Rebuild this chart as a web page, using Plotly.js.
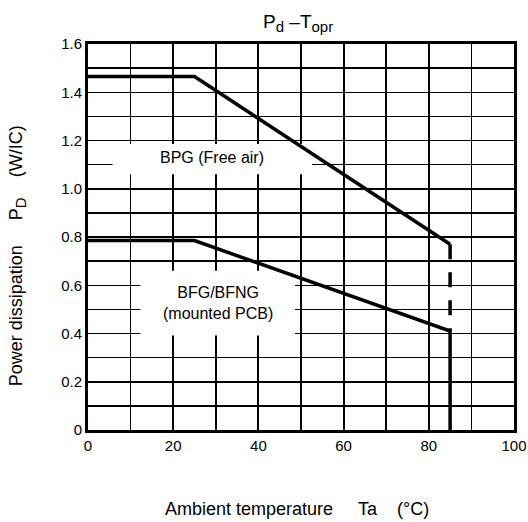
<!DOCTYPE html>
<html><head><meta charset="utf-8">
<script src="https://cdn.plot.ly/plotly-3.0.1.min.js"></script>
<style>html,body{margin:0;padding:0;background:#fff}#chart{width:528px;height:522px}</style>
</head><body><div id="chart"></div>
<script>
// Data
const bpgTemp = [0, 25, 85];
const bpgPower = [1.465, 1.465, 0.77];
const bpgDashTemp = [85, 85];
const bpgDashPower = [0.77, 0.41];
const bfgTemp = [0, 25, 85, 85];
const bfgPower = [0.785, 0.785, 0.41, 0];
const xTickVals = [0, 20, 40, 60, 80, 100];
const xTickText = ["0", "20", "40", "60", "80", "100"];
const yTickVals = [0, 0.2, 0.4, 0.6, 0.8, 1.0, 1.2, 1.4, 1.6];
const yTickText = ["0", "0.2", "0.4", "0.6", "0.8", "1.0", "1.2", "1.4", "1.6"];
const bpgLabel = "BPG (Free air)";
const bfgLabel = "BFG/BFNG<br>(mounted PCB)";

const F = "Liberation Sans, Arial, sans-serif";
const line = {color: "#000", width: 3.5};
const traces = [
  {x: bpgTemp, y: bpgPower, mode: "lines", line: line, hoverinfo: "skip"},
  {x: bpgDashTemp, y: bpgDashPower, mode: "lines", line: {color: "#000", width: 3.5, dash: "15px,13px"}, hoverinfo: "skip"},
  {x: bfgTemp, y: bfgPower, mode: "lines", line: line, hoverinfo: "skip"}
];
const nb = "\u00a0";
const sub = (t, s) => '<sub><span style="font-size:' + s + 'px">' + t + '</span></sub>';
const layout = {
  width: 528, height: 522,
  margin: {l: 87.5, r: 14, t: 44, b: 92},
  paper_bgcolor: "#fff", plot_bgcolor: "#fff",
  showlegend: false,
  font: {family: F, color: "#000", size: 14},
  xaxis: {
    range: [0, 100], tickvals: xTickVals, ticktext: xTickText,
    showgrid: true, gridcolor: "#000", gridwidth: 2,
    minor: {tickvals: [10, 30, 50, 70, 90], showgrid: true, gridcolor: "#000", gridwidth: 1.5},
    showline: true, mirror: true, linecolor: "#000", linewidth: 3,
    zeroline: false, ticks: "", tickfont: {family: F, size: 15}, fixedrange: true
  },
  yaxis: {
    range: [0, 1.6], tickvals: yTickVals, ticktext: yTickText,
    showgrid: true, gridcolor: "#000", gridwidth: 1.5,
    minor: {tickvals: [0.1, 0.3, 0.5, 0.7, 0.9, 1.1, 1.3, 1.5], showgrid: true, gridcolor: "#000", gridwidth: 1.5},
    showline: true, mirror: true, linecolor: "#000", linewidth: 3,
    zeroline: false, ticks: "", tickfont: {family: F, size: 15}, fixedrange: true
  },
  shapes: [
    {type: "rect", layer: "between", xref: "x", yref: "y", x0: 5.8, x1: 52.6, y0: 1.06, y1: 1.185, fillcolor: "#fff", line: {width: 0}},
    {type: "rect", layer: "between", xref: "x", yref: "y", x0: 12.3, x1: 48.6, y0: 0.392, y1: 0.66, fillcolor: "#fff", line: {width: 0}}
  ],
  annotations: [
    {x: 29.0, y: 1.13, xref: "x", yref: "y", text: bpgLabel, showarrow: false, font: {family: F, size: 16}, xanchor: "center", yanchor: "middle"},
    {x: 30.6, y: 0.525, xref: "x", yref: "y", text: bfgLabel, showarrow: false, font: {family: F, size: 16}, xanchor: "center", yanchor: "middle"},
    {x: 0.494, y: 1.055, xref: "paper", yref: "paper", text: "P" + sub("d", 15) + " –T" + sub("opr", 15), showarrow: false, font: {family: F, size: 19}, xanchor: "center", yanchor: "middle"},
    {x: 0.49, y: -0.205, xref: "paper", yref: "paper", text: "Ambient temperature" + nb.repeat(5) + "Ta" + nb.repeat(4) + "(°C)", showarrow: false, font: {family: F, size: 18}, xanchor: "center", yanchor: "middle"},
    {x: -0.165, y: 0.452, xref: "paper", yref: "paper", text: "Power dissipation" + nb.repeat(5) + "P" + sub("D", 15) + nb.repeat(4) + "(W/IC)", textangle: -90, showarrow: false, font: {family: F, size: 18}, xanchor: "center", yanchor: "middle"}
  ]
};
Plotly.newPlot("chart", traces, layout, {staticPlot: true, displayModeBar: false});
</script></body></html>
